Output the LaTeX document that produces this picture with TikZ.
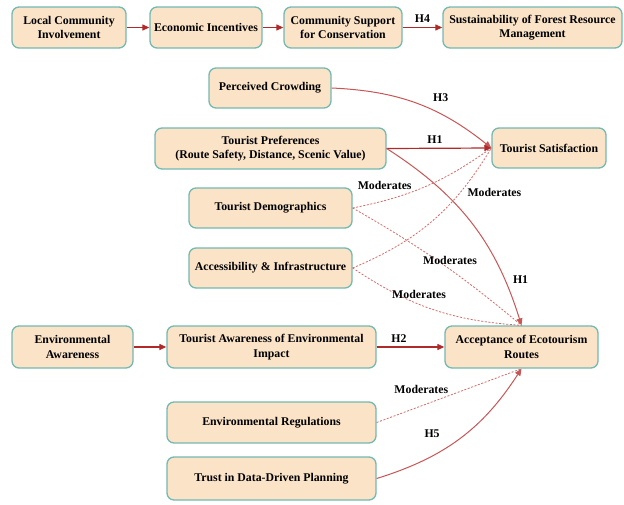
\documentclass[tikz,border=0pt]{standalone}
\usepackage{fontspec}
\setmainfont{Liberation Serif}
\usetikzlibrary{arrows.meta,positioning}
\definecolor{boxfill}{HTML}{FAE3C6}
\definecolor{boxdraw}{HTML}{74B9B2}
\definecolor{arrdark}{HTML}{B02A2A}
\definecolor{arrlight}{HTML}{C75656}
\definecolor{arrdash}{HTML}{D46A6A}
\begin{document}
\begin{tikzpicture}[x=1pt,y=-1pt,
  box/.style={draw=boxdraw, line width=1.3pt, fill=boxfill, rounded corners=7pt,
    align=center, font=\fontsize{11.8}{14.5}\selectfont\bfseries, inner sep=1pt},
  solidarr/.style={draw=arrdark, line width=1.2pt, -{Triangle[length=7pt,width=6pt]}},
  curvarr/.style={draw=arrlight, line width=1pt, -{Triangle[length=7pt,width=6pt]}},
  dasharr/.style={draw=arrdash, line width=0.8pt, dash pattern=on 2pt off 1.6pt},
  lbl/.style={font=\fontsize{11.8}{13}\selectfont\bfseries, inner sep=1pt}
]
\useasboundingbox (0,0) rectangle (624,504);
% nodes
\node[box, minimum width=114pt, minimum height=41pt] (local) at (69,27.5) {Local Community\\Involvement};
\node[box, minimum width=112pt, minimum height=41pt] (econ) at (206,27.5) {Economic Incentives};
\node[box, minimum width=118pt, minimum height=41pt] (support) at (343,27.5) {Community Support\\for Conservation};
\node[box, minimum width=179pt, minimum height=41pt] (sust) at (532.5,27.5) {Sustainability of Forest Resource\\Management};
\node[box, minimum width=122pt, minimum height=40pt] (crowd) at (270,88) {Perceived Crowding};
\node[box, minimum width=231pt, minimum height=41pt] (pref) at (270.5,148.5) {Tourist Preferences\\(Route Safety, Distance, Scenic Value)};
\node[box, minimum width=114pt, minimum height=40pt] (sat) at (549,148) {Tourist Satisfaction};
\node[box, minimum width=163pt, minimum height=40pt] (demo) at (270.5,208) {Tourist Demographics};
\node[box, minimum width=163pt, minimum height=40pt] (access) at (270.5,268) {Accessibility \& Infrastructure};
\node[box, minimum width=121pt, minimum height=42pt] (envaw) at (72.5,347) {Environmental\\Awareness};
\node[box, minimum width=209pt, minimum height=42pt] (touraw) at (271.5,347) {Tourist Awareness of Environmental\\Impact};
\node[box, minimum width=153pt, minimum height=42pt] (accept) at (521.5,347) {Acceptance of Ecotourism\\Routes};
\node[box, minimum width=209pt, minimum height=41pt] (regs) at (271.5,422.5) {Environmental Regulations};
\node[box, minimum width=209pt, minimum height=43pt] (trust) at (271.5,478.5) {Trust in Data-Driven Planning};
% top row
\draw[solidarr] (local) -- (econ);
\draw[solidarr] (econ) -- (support);
\draw[solidarr] (support) -- node[lbl, above=3pt] {H4} (sust);
% dashed moderators
\draw[dasharr] (demo.east) to[bend right=12] node[lbl, pos=0.2, anchor=south, yshift=10pt] {Moderates} (sat.west);
\draw[dasharr] (access.east) to[bend right=18] node[lbl, pos=0.74, anchor=west, xshift=4pt, yshift=-2pt] {Moderates} (sat.west);
\draw[dasharr] (demo.east) to[bend left=5] node[lbl, pos=0.55, anchor=south west, xshift=-26pt, yshift=2pt] {Moderates} (accept.north);
\draw[dasharr] (access.east) to[bend right=15] node[lbl, pos=0.4, anchor=south, yshift=4pt, xshift=2pt] {Moderates} (accept.north);
\draw[dasharr] (regs.east) -- node[lbl, pos=0.35, anchor=south, yshift=9pt, xshift=-6pt] {Moderates} (accept.south);
% hypotheses
\draw[curvarr] (crowd.east) to[bend left=18] node[lbl, pos=0.62, anchor=south, yshift=8pt, xshift=6pt] {H3} (sat.west);
\draw[solidarr] (pref.east) -- node[lbl, above=3pt, xshift=-4pt] {H1} (sat.west);
\draw[curvarr] (pref.east) to[bend left=20] node[lbl, pos=0.8, right=7pt] {H1} (accept.north);
\draw[solidarr] (envaw) -- (touraw);
\draw[solidarr] (touraw) -- node[lbl, above=3pt, pos=0.33] {H2} (accept);
\draw[curvarr] (trust.east) to[bend right=20] node[lbl, pos=0.45, anchor=east, xshift=-12pt, yshift=9pt] {H5} (accept.south);
\end{tikzpicture}
\end{document}
